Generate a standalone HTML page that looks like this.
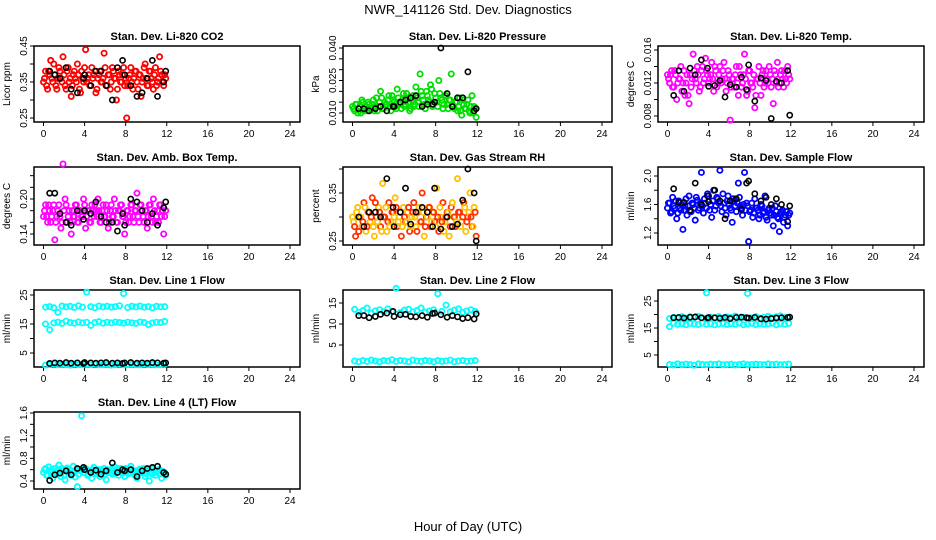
<!DOCTYPE html>
<html><head><meta charset="utf-8"><style>
html,body{margin:0;padding:0;background:#fff;}
svg{display:block;font-family:"Liberation Sans",Arial,sans-serif;}
</style></head><body>
<svg id="chart" width="936" height="540" viewBox="0 0 936 540">
<text x="468" y="14" font-size="13" text-anchor="middle">NWR_141126  Std. Dev. Diagnostics</text>
<text x="468" y="531" font-size="13" text-anchor="middle">Hour of Day (UTC)</text>
</svg>
<script>
const hoursC=[0.1,0.3,0.5,0.7,0.9,1.1,1.3,1.5,1.7,1.9,2.1,2.3,2.5,2.7,2.9,3.1,3.3,3.5,3.7,3.9,4.1,4.3,4.5,4.7,4.9,5.1,5.3,5.5,5.7,5.9,6.1,6.3,6.5,6.7,6.9,7.1,7.3,7.5,7.7,7.9,8.1,8.3,8.5,8.7,8.9,9.1,9.3,9.5,9.7,9.9,10.1,10.3,10.5,10.7,10.9,11.1,11.3,11.5,11.7,11.9];
const hoursC2=[0.0,0.2,0.4,0.6,0.8,1.0,1.2,1.4,1.6,1.8,2.0,2.2,2.4,2.6,2.8,3.0,3.2,3.4,3.6,3.8,4.0,4.2,4.4,4.6,4.8,5.0,5.2,5.4,5.6,5.8,6.0,6.2,6.4,6.6,6.8,7.0,7.2,7.4,7.6,7.8,8.0,8.2,8.4,8.6,8.8,9.0,9.2,9.4,9.6,9.8,10.0,10.2,10.4,10.6,10.8,11.0,11.2,11.4,11.6,11.8];
const hoursB=[0.2,0.6,1.0,1.4,1.8,2.2,2.6,3.0,3.4,3.8,4.2,4.6,5.0,5.4,5.8,6.2,6.6,7.0,7.4,7.8,8.2,8.6,9.0,9.4,9.8,10.2,10.6,11.0,11.4,11.8];
const hoursK=[0.6,1.1,1.6,2.2,2.7,3.3,3.9,4.0,4.6,5.1,5.6,6.1,6.7,7.2,7.7,7.9,8.5,9.1,9.6,10.1,10.6,11.1,11.7,11.9];
const xTicks=[0,4,8,12,16,20,24];

const c1=[0.36,0.34,0.38,0.41,0.35,0.37,0.33,0.39,0.36,0.42,0.34,0.38,0.35,0.31,0.37,0.36,0.40,0.33,0.38,0.35,0.44,0.36,0.34,0.39,0.37,0.32,0.36,0.38,0.35,0.43,0.34,0.37,0.33,0.39,0.36,0.30,0.38,0.35,0.37,0.34,0.25,0.36,0.39,0.33,0.38,0.35,0.37,0.31,0.36,0.40,0.34,0.38,0.36,0.33,0.39,0.35,0.42,0.37,0.34,0.36];
const c1b=[0.35,0.38,0.33,0.37,0.36,0.40,0.34,0.36,0.38,0.35,0.37,0.33,0.39,0.36,0.34,0.38,0.35,0.37,0.32,0.36,0.39,0.35,0.37,0.34,0.36,0.38,0.33,0.37,0.35,0.36,0.39,0.34,0.37,0.35,0.38,0.36,0.33,0.37,0.35,0.39,0.36,0.34,0.37,0.35,0.36,0.38,0.33,0.37,0.35,0.39,0.36,0.34,0.38,0.35,0.37,0.34,0.36,0.38,0.35,0.37];
const k1=[0.38,0.37,0.36,0.39,0.33,0.32,0.36,0.37,0.34,0.38,0.38,0.34,0.30,0.39,0.41,0.37,0.34,0.31,0.32,0.36,0.41,0.31,0.35,0.38];
const c2=[0.012,0.014,0.010,0.013,0.016,0.011,0.013,0.015,0.012,0.014,0.011,0.017,0.013,0.020,0.012,0.015,0.014,0.018,0.011,0.016,0.013,0.021,0.015,0.012,0.019,0.014,0.017,0.011,0.016,0.013,0.022,0.015,0.028,0.018,0.014,0.020,0.016,0.023,0.013,0.019,0.015,0.025,0.017,0.012,0.018,0.014,0.016,0.028,0.013,0.015,0.011,0.017,0.009,0.014,0.012,0.016,0.010,0.018,0.013,0.008];
const c2b=[0.013,0.011,0.014,0.012,0.010,0.015,0.013,0.011,0.014,0.012,0.016,0.013,0.011,0.015,0.017,0.012,0.014,0.016,0.013,0.018,0.015,0.012,0.017,0.014,0.016,0.013,0.019,0.015,0.012,0.018,0.014,0.017,0.013,0.020,0.016,0.012,0.018,0.015,0.021,0.014,0.017,0.013,0.019,0.016,0.014,0.018,0.012,0.016,0.014,0.012,0.015,0.013,0.011,0.016,0.012,0.014,0.011,0.013,0.010,0.012];
const k2=[0.012,0.012,0.011,0.012,0.013,0.011,0.013,0.013,0.015,0.016,0.017,0.018,0.013,0.014,0.014,0.015,0.040,0.019,0.013,0.017,0.017,0.029,0.011,0.012];
const c3=[0.0125,0.013,0.0115,0.0135,0.010,0.0125,0.014,0.012,0.0105,0.013,0.0095,0.0115,0.0155,0.0125,0.014,0.011,0.0135,0.012,0.015,0.013,0.0125,0.0145,0.011,0.0135,0.012,0.014,0.0125,0.0145,0.011,0.0135,0.0075,0.0125,0.0115,0.014,0.0105,0.013,0.012,0.0155,0.0105,0.0135,0.012,0.0115,0.009,0.0125,0.014,0.0105,0.0135,0.012,0.0125,0.014,0.0115,0.0095,0.013,0.0145,0.012,0.0135,0.0115,0.0125,0.014,0.0125];
const c3b=[0.013,0.012,0.0135,0.0115,0.013,0.012,0.0125,0.011,0.0135,0.012,0.0105,0.013,0.0125,0.0135,0.012,0.013,0.0115,0.014,0.0125,0.0135,0.012,0.013,0.0125,0.014,0.0115,0.013,0.012,0.0135,0.0125,0.012,0.013,0.0115,0.0125,0.013,0.012,0.014,0.0115,0.013,0.0125,0.011,0.0135,0.012,0.013,0.0105,0.0125,0.012,0.013,0.0115,0.0135,0.012,0.013,0.0125,0.0135,0.012,0.0115,0.013,0.0125,0.0135,0.012,0.013];
const k3=[0.0105,0.0135,0.011,0.0138,0.013,0.0148,0.0138,0.0116,0.0117,0.0123,0.0103,0.0118,0.0115,0.0127,0.0112,0.0142,0.0098,0.0126,0.0123,0.0077,0.0122,0.012,0.0135,0.0081];
const c4=[0.18,0.17,0.19,0.16,0.18,0.13,0.17,0.19,0.15,0.26,0.20,0.16,0.18,0.14,0.17,0.19,0.16,0.18,0.17,0.20,0.15,0.18,0.16,0.19,0.17,0.18,0.20,0.16,0.18,0.17,0.19,0.15,0.18,0.17,0.20,0.16,0.18,0.19,0.17,0.14,0.18,0.16,0.19,0.17,0.18,0.21,0.16,0.19,0.17,0.18,0.15,0.19,0.17,0.20,0.16,0.18,0.19,0.17,0.14,0.18];
const c4b=[0.17,0.19,0.16,0.18,0.17,0.19,0.16,0.18,0.17,0.16,0.18,0.19,0.17,0.16,0.18,0.17,0.19,0.16,0.18,0.17,0.19,0.17,0.18,0.16,0.18,0.19,0.17,0.18,0.16,0.19,0.17,0.18,0.16,0.19,0.17,0.18,0.16,0.18,0.19,0.17,0.16,0.18,0.17,0.19,0.16,0.18,0.17,0.19,0.18,0.16,0.18,0.17,0.19,0.16,0.18,0.17,0.16,0.19,0.18,0.17];
const k4=[0.21,0.21,0.175,0.16,0.155,0.18,0.165,0.18,0.175,0.195,0.17,0.16,0.16,0.145,0.175,0.155,0.20,0.195,0.18,0.16,0.175,0.155,0.185,0.195];
const c5=[0.29,0.26,0.32,0.30,0.28,0.33,0.27,0.31,0.29,0.34,0.26,0.30,0.32,0.28,0.37,0.30,0.27,0.33,0.29,0.31,0.34,0.28,0.30,0.26,0.32,0.29,0.31,0.27,0.30,0.33,0.28,0.31,0.29,0.35,0.26,0.30,0.32,0.28,0.31,0.29,0.36,0.27,0.30,0.33,0.29,0.31,0.26,0.32,0.30,0.28,0.38,0.31,0.29,0.33,0.27,0.30,0.35,0.28,0.32,0.26];
const c5b=[0.30,0.28,0.31,0.27,0.30,0.29,0.32,0.28,0.31,0.30,0.28,0.33,0.29,0.31,0.27,0.30,0.32,0.29,0.28,0.31,0.30,0.32,0.29,0.31,0.28,0.30,0.29,0.32,0.28,0.31,0.30,0.27,0.32,0.29,0.31,0.28,0.30,0.32,0.29,0.31,0.28,0.30,0.32,0.29,0.27,0.30,0.31,0.28,0.33,0.30,0.29,0.31,0.28,0.30,0.32,0.29,0.31,0.30,0.28,0.31];
const k5=[0.30,0.28,0.31,0.31,0.30,0.38,0.32,0.28,0.31,0.36,0.285,0.31,0.32,0.31,0.28,0.36,0.275,0.30,0.28,0.285,0.335,0.40,0.35,0.25];
const c6=[1.62,1.48,1.70,1.55,1.40,1.65,1.52,1.25,1.58,1.45,1.72,1.50,1.60,1.38,1.66,1.55,2.05,1.48,1.62,1.75,1.52,1.42,1.80,1.58,1.68,2.08,1.50,1.62,1.45,1.72,1.55,1.35,1.65,1.50,1.90,1.58,1.45,2.05,1.62,1.08,1.52,1.42,1.68,1.55,1.40,1.60,1.48,1.72,1.38,1.55,1.45,1.30,1.58,1.42,1.22,1.50,1.35,1.45,1.30,1.48];
const c6b=[1.55,1.62,1.50,1.58,1.65,1.48,1.55,1.60,1.52,1.68,1.58,1.50,1.62,1.55,1.70,1.52,1.62,1.58,1.68,1.55,1.72,1.60,1.65,1.52,1.70,1.62,1.58,1.75,1.55,1.65,1.60,1.52,1.68,1.58,1.62,1.70,1.55,1.60,1.52,1.58,1.50,1.62,1.48,1.55,1.52,1.45,1.58,1.50,1.42,1.52,1.48,1.55,1.45,1.50,1.40,1.48,1.52,1.42,1.50,1.45];
const k6=[1.82,1.63,1.63,1.52,1.90,1.60,1.72,1.64,1.80,1.65,1.40,1.65,1.68,1.53,1.90,1.93,1.75,1.65,1.70,1.60,1.68,1.60,1.36,1.58];
const c7a=[20.8,21.0,20.6,19.0,21.2,20.9,21.1,20.7,21.3,20.8,26.0,21.0,20.6,21.2,20.9,21.1,20.8,21.0,21.3,25.5,20.7,21.1,20.9,21.2,20.8,21.0,20.6,21.1,20.9,21.0];
const c7b=[15.0,13.0,15.4,15.6,15.2,16.0,15.5,15.3,15.7,15.4,15.6,14.5,15.5,15.8,15.3,15.6,15.4,15.7,15.5,15.3,15.6,15.4,15.2,15.7,15.5,14.8,15.4,15.6,15.5,15.9];
const c7c=[0.8,1.0,1.2,0.9,1.1,1.0,0.8,1.2,1.0,0.9,1.1,1.0,1.2,0.9,1.0,1.1,0.8,1.0,1.2,0.9,1.0,1.1,1.0,0.9,1.2,1.0,1.1,0.9,1.0,1.1];
const k7=[1.4,1.6,1.5,1.7,1.5,1.6,1.4,1.7,1.6,1.5,1.6,1.7,1.5,1.6,1.4,1.6,1.7,1.5,1.6,1.5,1.7,1.6,1.5,1.6];
const c8a=[13.5,12.8,13.2,13.8,12.6,13.1,13.4,12.9,13.6,13.0,18.5,12.7,13.3,13.5,12.9,13.2,13.8,12.8,13.1,13.4,17.2,13.0,14.5,12.9,13.3,13.6,12.8,13.1,13.4,13.0];
const c8b=[1.2,1.0,1.3,1.1,1.4,1.2,1.0,1.3,1.2,1.5,1.1,1.3,1.2,1.0,1.4,1.2,1.1,1.3,1.2,1.0,1.3,1.1,1.2,1.4,1.0,1.2,1.3,1.1,1.2,1.3];
const k8=[12.0,12.0,11.5,11.8,12.3,12.6,13.0,11.8,12.2,12.3,11.8,11.7,12.0,11.6,12.5,12.6,12.2,11.6,12.0,11.7,11.3,11.5,11.2,12.4];
const c9a=[18.5,19.0,18.8,19.2,18.6,19.1,18.9,19.3,18.7,28.0,19.0,18.8,19.2,18.6,19.1,18.9,19.4,18.7,19.0,27.8,18.8,19.2,18.6,19.0,19.3,18.8,19.1,19.5,18.9,19.0];
const c9b=[15.5,16.8,16.4,16.6,16.2,16.7,16.5,16.3,16.8,16.4,16.6,16.2,16.5,16.7,16.3,16.6,16.4,16.8,16.2,16.5,16.7,16.3,16.6,16.4,16.5,16.8,16.2,16.6,16.4,16.7];
const c9c=[1.5,1.3,1.7,1.4,1.6,1.5,1.2,1.7,1.5,1.4,1.6,1.5,1.7,1.4,1.5,1.6,1.3,1.5,1.7,1.4,1.5,1.6,1.5,1.4,1.7,1.5,1.6,1.4,1.5,1.6];
const k9=[18.8,18.9,18.7,19.0,19.1,18.8,18.7,18.9,18.8,18.6,18.9,18.5,18.9,19.0,18.8,18.7,18.9,18.4,18.3,18.5,18.7,18.8,18.9,19.0];
const c10=[0.60,0.50,0.65,0.55,0.45,0.62,0.52,0.68,0.48,0.58,0.42,0.63,0.55,0.50,0.66,0.47,0.30,0.60,1.55,0.55,0.62,0.50,0.58,0.45,0.64,0.53,0.60,0.48,0.57,0.62,0.42,0.55,0.60,0.52,0.65,0.58,0.50,0.62,0.55,0.48,0.60,0.53,0.66,0.57,0.50,0.45,0.60,0.55,0.62,0.48,0.58,0.40,0.55,0.62,0.50,0.57,0.60,0.45,0.55,0.50];
const c10b=[0.55,0.62,0.50,0.58,0.60,0.52,0.56,0.60,0.54,0.62,0.50,0.57,0.60,0.53,0.58,0.55,0.60,0.52,0.58,0.62,0.55,0.60,0.52,0.57,0.60,0.55,0.58,0.53,0.60,0.56,0.52,0.60,0.57,0.55,0.60,0.53,0.62,0.56,0.58,0.54,0.62,0.58,0.55,0.60,0.56,0.58,0.52,0.60,0.55,0.58,0.53,0.60,0.56,0.52,0.58,0.55,0.60,0.53,0.57,0.55];
const k10=[0.41,0.51,0.54,0.58,0.51,0.62,0.64,0.60,0.55,0.59,0.52,0.58,0.72,0.55,0.60,0.58,0.60,0.48,0.58,0.62,0.64,0.66,0.55,0.52];

const NS='http://www.w3.org/2000/svg';
const svg=document.getElementById('chart');
function el(tag,attrs,parent){const e=document.createElementNS(NS,tag);for(const k in attrs)e.setAttribute(k,attrs[k]);(parent||svg).appendChild(e);return e;}

const cols=[[34,300],[343,612],[658,924]];
const rows=[[46,122],[167,245],[290,367],[412,489]];
const panels=[
 {id:'co2',title:'Stan. Dev. Li-820 CO2',ylab:'Licor ppm',c:0,r:0,cal:[0.45,46,0.25,118],ticks:[0.25,0.30,0.35,0.40,0.45],labels:['0.25','','0.35','','0.45'],series:[[hoursC,c1,'#ff0000'],[hoursC2,c1b,'#ff0000']],black:k1},
 {id:'pressure',title:'Stan. Dev. Li-820 Pressure',ylab:'kPa',c:1,r:0,cal:[0.040,48,0.010,113],ticks:[0.010,0.015,0.020,0.025,0.030,0.035,0.040],labels:['0.010','','','0.025','','','0.040'],series:[[hoursC,c2,'#00dd00'],[hoursC2,c2b,'#00dd00']],black:k2},
 {id:'temp',title:'Stan. Dev. Li-820 Temp.',ylab:'degrees C',c:2,r:0,cal:[0.016,50,0.008,116],ticks:[0.008,0.010,0.012,0.014,0.016],labels:['0.008','','0.012','','0.016'],series:[[hoursC,c3,'#ff00ff'],[hoursC2,c3b,'#ff00ff']],black:k3},
 {id:'amb-box-temp',title:'Stan. Dev. Amb. Box Temp.',ylab:'degrees C',c:0,r:1,cal:[0.20,199,0.14,234],ticks:[0.14,0.16,0.18,0.20,0.22,0.24],labels:['0.14','','','0.20','',''],series:[[hoursC,c4,'#ff00ff'],[hoursC2,c4b,'#ff00ff']],black:k4},
 {id:'gas-stream-rh',title:'Stan. Dev. Gas Stream RH',ylab:'percent',c:1,r:1,cal:[0.35,193,0.25,241],ticks:[0.25,0.30,0.35,0.40],labels:['0.25','','0.35',''],series:[[hoursC,c5,'alt'],[hoursC2,c5b,'alt']],black:k5},
 {id:'sample-flow',title:'Stan. Dev. Sample Flow',ylab:'ml/min',c:2,r:1,cal:[2.0,176,1.2,233],ticks:[1.2,1.4,1.6,1.8,2.0],labels:['1.2','','1.6','','2.0'],series:[[hoursC,c6,'#0000ff'],[hoursC2,c6b,'#0000ff']],black:k6},
 {id:'line1-flow',title:'Stan. Dev. Line 1 Flow',ylab:'ml/min',c:0,r:2,cal:[25,295,5,353],ticks:[5,10,15,20,25],labels:['5','','15','','25'],series:[[hoursB,c7a,'#00ffff'],[hoursB,c7b,'#00ffff'],[hoursB,c7c,'#00ffff']],black:k7},
 {id:'line2-flow',title:'Stan. Dev. Line 2 Flow',ylab:'ml/min',c:1,r:2,cal:[15,303,5,345],ticks:[5,10,15],labels:['5','10','15'],series:[[hoursB,c8a,'#00ffff'],[hoursB,c8b,'#00ffff']],black:k8},
 {id:'line3-flow',title:'Stan. Dev. Line 3 Flow',ylab:'ml/min',c:2,r:2,cal:[25,301,5,355],ticks:[5,10,15,20,25],labels:['5','','15','','25'],series:[[hoursB,c9a,'#00ffff'],[hoursB,c9b,'#00ffff'],[hoursB,c9c,'#00ffff']],black:k9},
 {id:'line4-flow',title:'Stan. Dev. Line 4 (LT) Flow',ylab:'ml/min',c:0,r:3,cal:[1.6,413,0.4,481],ticks:[0.4,0.6,0.8,1.0,1.2,1.4,1.6],labels:['0.4','','0.8','','1.2','','1.6'],series:[[hoursC,c10,'#00ffff'],[hoursC2,c10b,'#00ffff']],black:k10}
];

panels.forEach(p=>{
  const [L,R]=cols[p.c],[T,B]=rows[p.r];
  const g=el('g',{});
  
  
  const x0=L+9.5,x1=R-10;
  const xs=h=>x0+(x1-x0)*h/24;
  const [v1,p1,v2,p2]=p.cal;
  const ys=v=>p1+(v-v1)*(p2-p1)/(v2-v1);
  const t=el('text',{x:(L+R)/2,y:T-6,'font-size':11,'font-weight':'bold','text-anchor':'middle'},g);
  t.textContent=p.title;
  
  
  const frame=el('rect',{x:L,y:T,width:R-L,height:B-T,fill:'none',stroke:'#000','stroke-width':1.5},g);
  
  
  const xa=el('g',{},g);
  
  
  el('line',{x1:xs(0),x2:xs(24),y1:B,y2:B,stroke:'#000'},xa);
  xTicks.forEach(v=>{
    el('line',{x1:xs(v),x2:xs(v),y1:B,y2:B+4,stroke:'#000'},xa);
    const lt=el('text',{x:xs(v),y:B+15,'font-size':10,'text-anchor':'middle'},xa);
    lt.textContent=v;
    
    
  });
  const ya=el('g',{},g);
  
  
  const tv=p.ticks.filter(v=>ys(v)>=T-1&&ys(v)<=B+1);
  el('line',{x1:L,x2:L,y1:ys(tv[0]),y2:ys(tv[tv.length-1]),stroke:'#000'},ya);
  p.ticks.forEach((v,i)=>{
    const y=ys(v); if(y<T-1||y>B+1)return;
    el('line',{x1:L-4,x2:L,y1:y,y2:y,stroke:'#000'},ya);
    if(p.labels[i]){
      const lt=el('text',{x:L-7,y:y,'font-size':10,'text-anchor':'middle',transform:`rotate(-90 ${L-7} ${y})`},ya);
      lt.textContent=p.labels[i];
      
      
    }
  });
  const yt=el('text',{x:L-24,y:(T+B)/2,'font-size':10,'text-anchor':'middle',transform:`rotate(-90 ${L-24} ${(T+B)/2})`},g);
  yt.textContent=p.ylab;
  
  
  p.series.forEach(([hs,vals,col])=>{
    vals.forEach((v,i)=>{
      const c=col==='alt'?(i%2?'#ff3000':'#ffc000'):col;
      const m=el('circle',{cx:xs(hs[i]),cy:ys(v),r:2.6,fill:'none',stroke:c,'stroke-width':1.8},g);
      
      
    });
  });
  p.black.forEach((v,i)=>{
    const m=el('circle',{cx:xs(hoursK[i]),cy:ys(v),r:2.6,fill:'none',stroke:'#000','stroke-width':1.6},g);
    
    
  });
});
</script>
</body></html>
